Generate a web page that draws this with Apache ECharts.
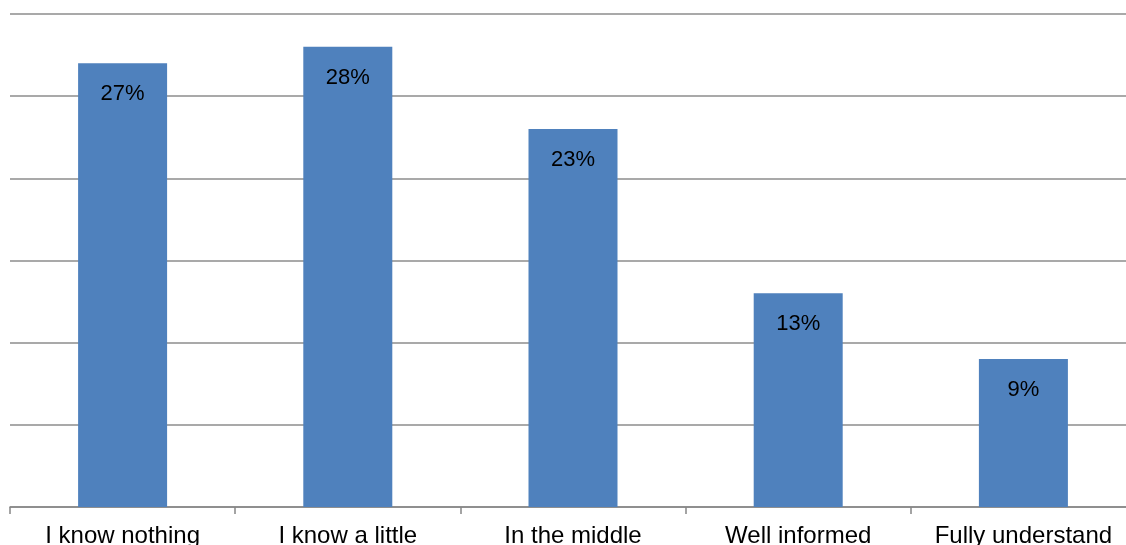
<!DOCTYPE html>
<html><head><meta charset="utf-8">
<script src="https://cdn.jsdelivr.net/npm/echarts@6/dist/echarts.min.js"></script>
<style>html,body{margin:0;padding:0;background:#fff;overflow:hidden;width:1126px;height:545px}#c{width:1136px;height:545px}</style>
</head><body><div id="c"></div>
<script>
const categories = ["I know nothing", "I know a little", "In the middle", "Well informed", "Fully understand"];
const values = [27, 28, 23, 13, 9];
const yTicks = [0, 5, 10, 15, 20, 25, 30];

const chart = echarts.init(document.getElementById('c'));
chart.setOption({
  animation: false,
  grid: { left: 10, right: 0, top: 14, bottom: 38, containLabel: false, outerBoundsMode: 'none' },
  xAxis: {
    type: 'category',
    data: categories,
    axisLine: { lineStyle: { color: '#868686', width: 1.5 } },
    axisTick: { show: true, interval: 0, length: 7, lineStyle: { color: '#868686', width: 1.5 } },
    axisLabel: { interval: 0, hideOverlap: false, color: '#000', fontSize: 24, fontFamily: 'Liberation Sans, Arial, sans-serif', margin: 17 }
  },
  yAxis: {
    type: 'value',
    min: yTicks[0], max: yTicks[yTicks.length - 1], interval: 5,
    axisLabel: { show: false },
    axisLine: { show: false },
    axisTick: { show: false },
    splitLine: { lineStyle: { color: '#8c8c8c', width: 1.5 } }
  },
  series: [{
    type: 'bar',
    data: values,
    barWidth: 89,
    itemStyle: { color: '#4F81BD' },
    label: {
      show: true, position: 'insideTop', distance: 20,
      formatter: '{c}%', color: '#000', fontSize: 22,
      fontFamily: 'Liberation Sans, Arial, sans-serif'
    }
  }]
});
</script></body></html>
